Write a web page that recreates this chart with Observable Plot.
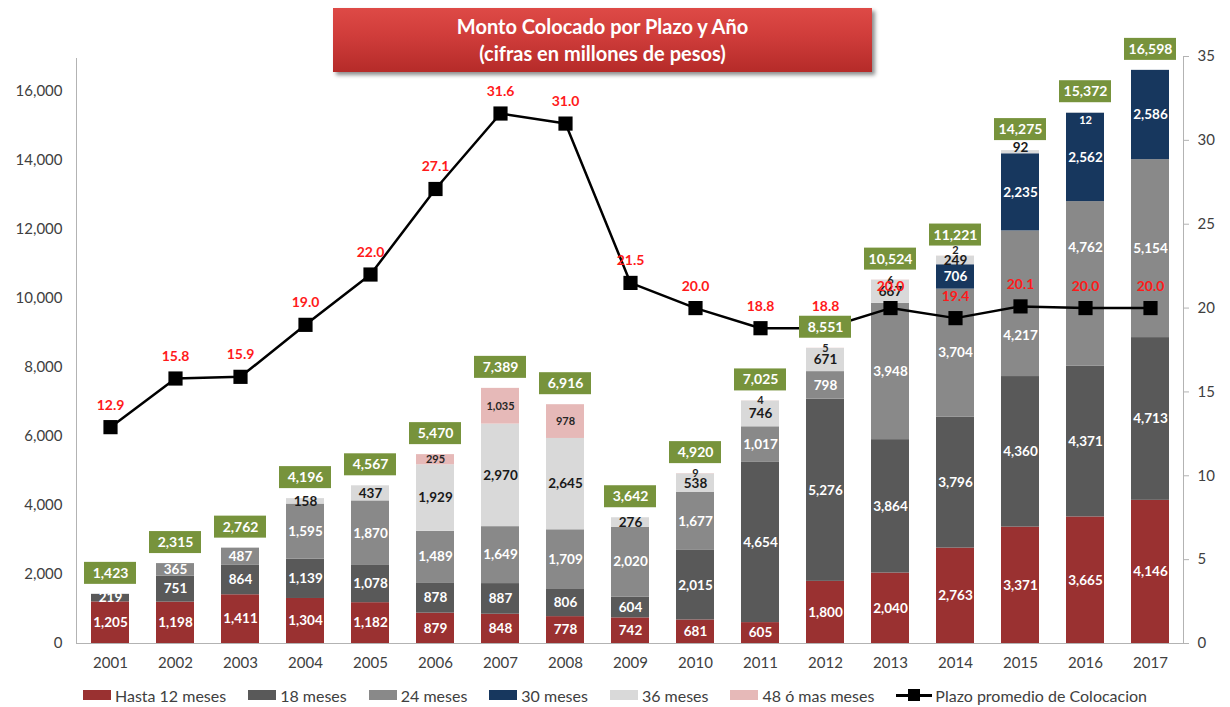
<!DOCTYPE html>
<html><head><meta charset="utf-8">
<script src="https://cdn.jsdelivr.net/npm/d3@7"></script>
<script src="https://cdn.jsdelivr.net/npm/@observablehq/plot@0.6"></script>
<style>
body{margin:0;background:#fff;font-family:Lato,"Open Sans",sans-serif;}
#wrap{position:relative;width:1230px;height:707px;overflow:hidden;}
#chart{position:absolute;left:0;top:0;}
#title{position:absolute;left:333px;top:8px;width:539px;height:64px;
  background:linear-gradient(180deg,#de4a46 0%,#cf3c3a 45%,#b52b29 100%);
  box-shadow:3px 3px 4px rgba(0,0,0,.45);color:#fff;font-weight:bold;font-size:20px;
  text-align:center;display:flex;flex-direction:column;justify-content:center;line-height:27px;}
#legend{position:absolute;top:684px;left:0;width:1230px;height:22px;display:flex;justify-content:center;align-items:center;gap:22px;font-size:16px;color:#404040;}
#legend .it{display:flex;align-items:center;}
#legend .sw{width:28px;height:10px;margin-right:4px;}
#legend .ln{position:relative;width:36px;height:12px;margin-right:3px;}
#legend .ln:before{content:"";position:absolute;left:0;right:0;top:5px;height:2.5px;background:#000;}
#legend .ln:after{content:"";position:absolute;left:12px;top:0;width:12px;height:12px;background:#000;}
</style></head>
<body>
<div id="wrap">
  <div id="chart"></div>
  <div id="title"><div>Monto Colocado por Plazo y Año</div><div>(cifras en millones de pesos)</div></div>
  <div id="legend"></div>
</div>
<script>
const years = ["2001","2002","2003","2004","2005","2006","2007","2008","2009","2010","2011","2012","2013","2014","2015","2016","2017"];
const hasta12 = [1205,1198,1411,1304,1182,879,848,778,742,681,605,1800,2040,2763,3371,3665,4146];
const meses18 = [219,751,864,1139,1078,878,887,806,604,2015,4654,5276,3864,3796,4360,4371,4713];
const meses24 = [0,365,487,1595,1870,1489,1649,1709,2020,1677,1017,798,3948,3704,4217,4762,5154];
const meses30 = [0,0,0,0,0,0,0,0,0,0,0,0,0,706,2235,2562,2586];
const meses36 = [0,0,0,158,437,1929,2970,2645,276,538,746,671,667,249,92,12,0];
const meses48 = [0,0,0,0,0,295,1035,978,0,9,4,5,6,2,0,0,0];
const totals = [1423,2315,2762,4196,4567,5470,7389,6916,3642,4920,7025,8551,10524,11221,14275,15372,16598];
const plazo = [12.9,15.8,15.9,19.0,22.0,27.1,31.6,31.0,21.5,20.0,18.8,18.8,20.0,19.4,20.1,20.0,20.0];
const seriesNames = ["Hasta 12 meses","18 meses","24 meses","30 meses","36 meses","48 ó mas meses"];
const seriesColors = ["#9a3131","#595959","#898989","#17375e","#d9d9d9","#e6b9b8"];
const labelColors = ["#ffffff","#ffffff","#ffffff","#ffffff","#1a1a1a","#262626"];
const lineName = "Plazo promedio de Colocacion";
const leftTicks = [0,2000,4000,6000,8000,10000,12000,14000,16000];
const rightTicks = [0,5,10,15,20,25,30,35];

// label nudges (pixels) mimicking the original's moved data labels
const nudges = {"2015|2":32,"2016|2":-36,"2016|4":8,"2014|5":-6,"2015|4":-5};
const whiteOverride = {"2016|4":true};

const seriesValues = [hasta12,meses18,meses24,meses30,meses36,meses48];
const rows = seriesNames.flatMap((s,si)=>years.map((yr,i)=>({year:yr,serie:si,value:seriesValues[si][i]})));
const yearRows = years.map((yr,i)=>({year:yr,total:totals[i],plazo:plazo[i]}));
const k = 17000/35;
const fmt = d3.format(",");
const key = d=>d.year+"|"+d.serie;
const nz = rows.filter(d=>d.value>0);
const dys = [0,...new Set(Object.values(nudges))];
const labelMarks = dys.map(dy=>Plot.text(nz,Plot.stackY({x:"year",y:"value",z:"serie",dy,
  text:d=>((nudges[key(d)]||0)===dy)?fmt(d.value):"",
  fill:d=>whiteOverride[key(d)]?"#fff":labelColors[d.serie],
  fontSize:d=>(d.serie===5||d.value<20)?11:13.5,fontWeight:"bold"})));

const chart = Plot.plot({
  width:1230,height:680,marginTop:56,marginBottom:37,marginLeft:76,marginRight:47,
  x:{domain:years,paddingInner:0.42,paddingOuter:0.21,label:null},
  y:{domain:[0,17000],label:null},
  color:{type:"identity"},
  style:{fontFamily:"Lato, 'Open Sans', sans-serif",background:"white",overflow:"visible"},
  marks:[
    Plot.frame({stroke:"#b3b3b3"}),
    Plot.ruleY([17000],{stroke:"white",strokeWidth:3}),
    Plot.axisX({tickSize:0,tickPadding:14,fontSize:15,color:"#404040",label:null}),
    Plot.axisY({anchor:"left",ticks:leftTicks,tickFormat:fmt,tickSize:0,tickPadding:14,fontSize:15,color:"#404040",label:null}),
    Plot.axisY({anchor:"right",ticks:rightTicks.map(v=>v*k),tickFormat:d=>String(Math.round(d/k)),tickSize:5,tickPadding:9,fontSize:15,color:"#404040",stroke:"#b3b3b3",label:null}),
    Plot.barY(rows,{x:"year",y:"value",z:"serie",fill:d=>seriesColors[d.serie]}),
    ...labelMarks,
    Plot.line(yearRows,{x:"year",y:d=>d.plazo*k,stroke:"#000",strokeWidth:2.5}),
    Plot.dot(yearRows,{x:"year",y:d=>d.plazo*k,symbol:"square",r:8,fill:"#000"}),
    Plot.text(yearRows,{x:"year",y:d=>d.plazo*k,dy:-22,text:d=>d.plazo.toFixed(1),fill:"#ff1a1a",fontWeight:"bold",fontSize:14}),
    Plot.barY(yearRows,{x:"year",y1:"total",y2:"total",fill:"#77933c",insetTop:-32,insetBottom:10,insetLeft:-7,insetRight:-7}),
    Plot.text(yearRows,{x:"year",y:"total",dy:-21,text:d=>fmt(d.total),fill:"#fff",fontWeight:"bold",fontSize:14})
  ]
});
document.getElementById("chart").appendChild(chart);

const leg = document.getElementById("legend");
seriesNames.forEach((s,i)=>{
  const it=document.createElement("div");it.className="it";
  it.innerHTML=`<span class="sw" style="background:${seriesColors[i]}"></span><span>${s}</span>`;
  leg.appendChild(it);
});
const li=document.createElement("div");li.className="it";
li.innerHTML=`<span class="ln"></span><span>${lineName}</span>`;
leg.appendChild(li);
</script>
</body></html>
